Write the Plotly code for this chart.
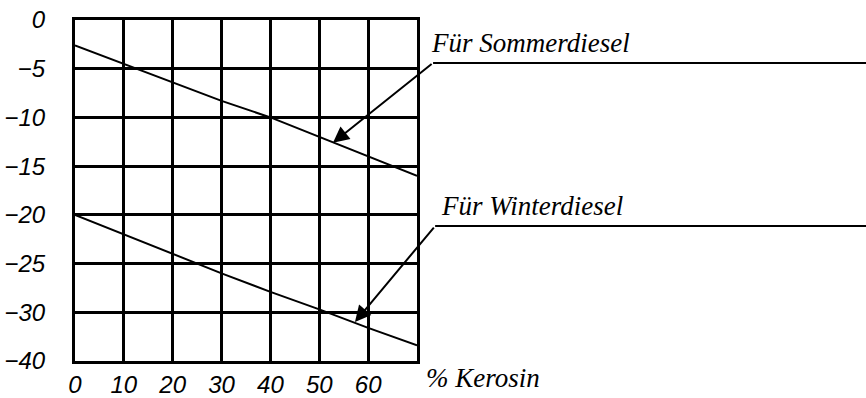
import plotly.graph_objects as go

# ── Data ──────────────────────────────────────────────────────────────────────
kerosin_pct   = [0, 10, 20, 30, 40, 50, 60, 70]
sommer_temp   = [-2.6, -4.5, -6.4, -8.3, -10.0, -12.0, -14.0, -16.0]
winter_temp   = [-20.0, -22.0, -24.0, -26.0, -27.9, -29.7, -31.6, -33.4]

x_tickvals = [0, 10, 20, 30, 40, 50, 60, 70]
x_ticktext = ["0", "10", "20", "30", "40", "50", "60", ""]
y_tickvals = [0, -5, -10, -15, -20, -25, -30, -35]
y_ticktext = ["0", "−5", "−10", "−15", "−20", "−25", "−30", "−40"]

# ── Style ─────────────────────────────────────────────────────────────────────
BLACK = "#000000"
TICK_FONT = dict(family="Liberation Sans, sans-serif",
                 size=24, color=BLACK, style="italic")
NOTE_FONT = dict(family="Liberation Serif, Times New Roman, serif",
                 size=27, color=BLACK, style="italic")

fig = go.Figure()
for y in (sommer_temp, winter_temp):
    fig.add_trace(go.Scatter(
        x=kerosin_pct, y=y, mode="lines",
        line=dict(color=BLACK, width=2),
        hoverinfo="skip",
    ))

# arrows pointing at the curves (tail at leader line corner)
arrows = [
    dict(x=52.8, y=-12.6, ax=73.3, ay=-4.4),
    dict(x=57.3, y=-31.0, ax=73.7, ay=-21.15),
]
for a in arrows:
    fig.add_annotation(
        x=a["x"], y=a["y"], ax=a["ax"], ay=a["ay"],
        xref="x", yref="y", axref="x", ayref="y",
        text="", showarrow=True,
        arrowhead=2, arrowsize=1.6, arrowwidth=2, arrowcolor=BLACK,
    )

# horizontal leader lines + labels
leaders = [("Für Sommerdiesel", 1.047, 0.874, 1.034),
           ("Für Winterdiesel", 1.053, 0.396, 1.063)]
for text, x0, y0, tx in leaders:
    fig.add_shape(type="line", xref="paper", yref="paper",
                  x0=x0, x1=2.4, y0=y0, y1=y0,
                  line=dict(color=BLACK, width=2))
    fig.add_annotation(text=text, xref="paper", yref="paper",
                       x=tx, y=y0 + 0.008, xanchor="left", yanchor="bottom",
                       showarrow=False, font=NOTE_FONT)

fig.add_annotation(text="% Kerosin", xref="paper", yref="paper",
                   x=1.02, y=-0.05, xanchor="left", yanchor="middle",
                   showarrow=False, font=NOTE_FONT)

axis_common = dict(
    showgrid=True, gridcolor=BLACK, gridwidth=3,
    showline=True, linecolor=BLACK, linewidth=3, mirror=True,
    zeroline=False, ticks="", tickfont=TICK_FONT, automargin=False,
    ticklabeloverflow="allow",
)
fig.update_layout(
    width=866, height=398,
    paper_bgcolor="white", plot_bgcolor="white",
    margin=dict(l=75, r=449, t=20, b=37),
    showlegend=False,
    xaxis=dict(range=[0, 70], tickvals=x_tickvals, ticktext=x_ticktext,
               ticklabelstandoff=0, **axis_common),
    yaxis=dict(range=[-35, 0], tickvals=y_tickvals, ticktext=y_ticktext,
               ticklabelstandoff=22, **axis_common),
)

# drop the default body margin so the figure fills the window exactly
fig.write_html("out.html", config={"displayModeBar": False},
               post_script="document.body.style.margin='0';")
